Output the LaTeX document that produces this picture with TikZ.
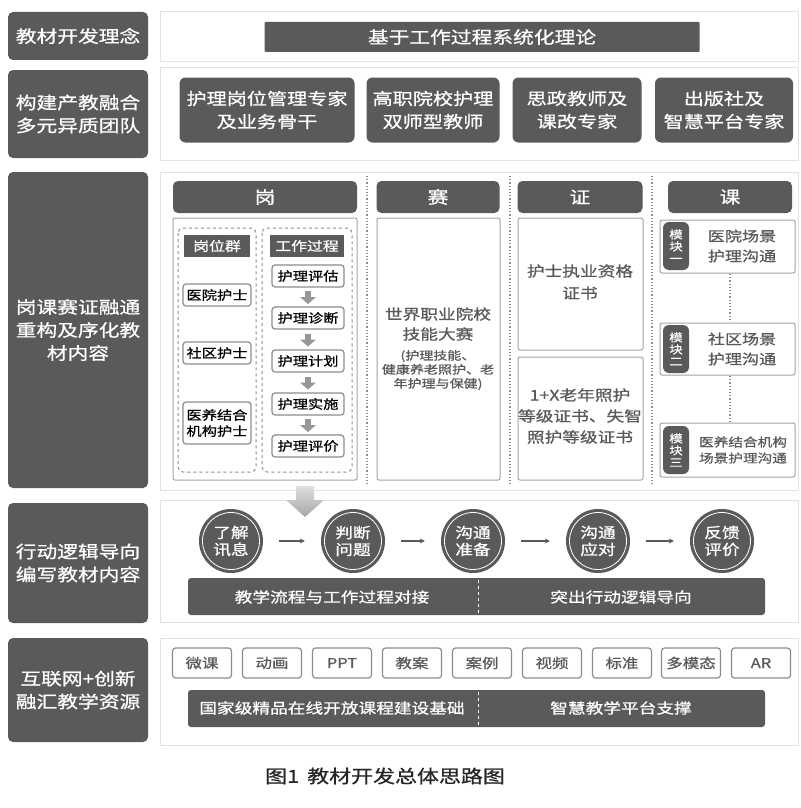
\documentclass[tikz,border=0pt]{standalone}
\usepackage{fontspec}
\setmainfont{Noto Sans CJK SC}[FakeStretch=1.22, FakeBold=0.8]
\usetikzlibrary{arrows.meta}
\definecolor{dk}{HTML}{5A5A5A}
\definecolor{pb}{HTML}{E2E2E2}
\definecolor{gr}{HTML}{8C8C8C}
\tikzset{
  lab/.style={fill=dk, rounded corners=5, text=white, align=center, inner sep=0, font=\fontsize{17}{23}\selectfont},
  panel/.style={draw=pb, fill=white, line width=1},
  dbox/.style={fill=dk, rounded corners=4, text=white, align=center, inner sep=0},
  wbox/.style={draw=gr, line width=1.2, fill=white, rounded corners=3, align=center, inner sep=0},
  cbox/.style={draw=gr!80, line width=1, fill=white, rounded corners=2},
  dashbox/.style={draw=gr, dashed, line width=1, rounded corners=5},
  sep/.style={draw=gr, dotted, line width=1.2},
  circ/.style={circle, fill=dk, minimum size=64, inner sep=0, text=white, align=center, font=\fontsize{14.5}{17}\selectfont},
  flow/.style={-{Stealth[length=5,width=5]}, line width=1.3, draw=dk},
  sarr/.style={fill=gr!90},
  ctext/.style={align=center, text=dk, inner sep=0},
}
\begin{document}
\begin{tikzpicture}[x=1pt,y=-1pt]
\useasboundingbox (0,0) rectangle (800,808);

% ---------- panels
\draw[panel] (160,12) rectangle (798,62);
\draw[panel] (160,68) rectangle (798,160);
\draw[panel] (160,172) rectangle (798,490);
\draw[panel] (160,500) rectangle (798,622);
\draw[panel] (160,638) rectangle (798,745);

% ---------- left labels
\node[lab, minimum width=140, minimum height=48] (L1) at (78,36) {教材开发理念};
\node[lab, minimum width=140, minimum height=88] (L2) at (78,114) {构建产教融合\\多元异质团队};
\node[lab, minimum width=140, minimum height=316] (L3) at (78,330) {岗课赛证融通\\重构及序化教\\材内容};
\node[lab, minimum width=140, minimum height=120] (L4) at (78,563) {行动逻辑导向\\编写教材内容};
\node[lab, minimum width=140, minimum height=104] (L5) at (78,690) {互联网+创新\\融汇教学资源};

% ---------- row 1
\node[dbox, rounded corners=1, minimum width=435, minimum height=30, font=\fontsize{17}{20}\selectfont] (theory) at (482,37) {基于工作过程系统化理论};

% ---------- row 2
\begin{scope}[every node/.style={dbox, rounded corners=6, minimum height=65, font=\fontsize{16.5}{23}\selectfont}]
\node[minimum width=175] (t1) at (267,110) {护理岗位管理专家\\及业务骨干};
\node[minimum width=133] (t2) at (433,110) {高职院校护理\\双师型教师};
\node[minimum width=129] (t3) at (577,110) {思政教师及\\课改专家};
\node[minimum width=138] (t4) at (724,110) {出版社及\\智慧平台专家};
\end{scope}

% ---------- row 3 headers
\begin{scope}[every node/.style={dbox, rounded corners=5, minimum height=32, font=\fontsize{17}{20}\selectfont}]
\node[minimum width=184] (hg) at (265,197) {岗};
\node[minimum width=123] (hs) at (438,197) {赛};
\node[minimum width=125] (hz) at (580,197) {证};
\node[minimum width=124] (hk) at (730,197) {课};
\end{scope}

% separators
\draw[sep] (367,176) -- (367,486);
\draw[sep] (510,176) -- (510,486);
\draw[sep] (652,176) -- (652,486);

% 岗
\draw[cbox] (173,218) rectangle (357,480);
\draw[dashbox] (178,228) rectangle (256,472);
\draw[dashbox] (262,228) rectangle (352,472);
\node[dbox, rounded corners=0, minimum width=66, minimum height=22, font=\fontsize{13}{14}\selectfont] (gwq) at (217,246) {岗位群};
\node[dbox, rounded corners=0, minimum width=74, minimum height=22, font=\fontsize{13}{14}\selectfont] (gzgc) at (307,246) {工作过程};
\begin{scope}[every node/.style={wbox, minimum width=68, font=\fontsize{12.5}{16}\selectfont}]
\node[minimum height=22] (p1) at (217,295) {医院护士};
\node[minimum height=22] (p2) at (217,353) {社区护士};
\node[minimum height=42] (p3) at (217,423) {医养结合\\机构护士};
\end{scope}
\begin{scope}[every node/.style={wbox, minimum width=72, minimum height=22, font=\fontsize{12.5}{15}\selectfont}]
\node (w1) at (308,276) {护理评估};
\node (w2) at (308,318) {护理诊断};
\node (w3) at (308,361) {护理计划};
\node (w4) at (308,404) {护理实施};
\node (w5) at (308,446) {护理评价};
\end{scope}
\foreach \a/\b in {w1/w2,w2/w3,w3/w4,w4/w5}{
  \path (\a.south) -- (\b.north) coordinate[pos=0.5] (m);
  \fill[sarr] ([shift={(-3,-6)}]m) rectangle ([shift={(3,0)}]m);
  \fill[sarr] ([shift={(-8,0)}]m) -- ([shift={(8,0)}]m) -- ([shift={(0,7)}]m) -- cycle;
}

% 赛
\draw[cbox] (377,218) rectangle (500,480);
\node[ctext, font=\fontsize{14.5}{20}\selectfont] (sai1) at (438,324) {世界职业院校\\技能大赛};
\node[ctext, font=\fontsize{11.5}{14}\selectfont] (sai2) at (438,370) {(护理技能、\\健康养老照护、老\\年护理与保健)};

% 证
\draw[cbox] (518,218) rectangle (643,350);
\draw[cbox] (518,357) rectangle (643,480);
\node[ctext, font=\fontsize{14.5}{22}\selectfont] (z1) at (580,282) {护士执业资格\\证书};
\node[ctext, font=\fontsize{14.5}{21}\selectfont] (z2) at (580,416) {1+X老年照护\\等级证书、失智\\照护等级证书};

% 课
\draw[cbox] (660,220) rectangle (795,273);
\draw[cbox] (660,323) rectangle (795,375);
\draw[cbox] (660,423) rectangle (795,477);
\node[dbox, rounded corners=6, minimum width=26, minimum height=48, font=\fontsize{11}{12}\selectfont] (m1) at (676,246) {模\\块\\一};
\node[dbox, rounded corners=6, minimum width=26, minimum height=48, font=\fontsize{11}{12}\selectfont] (m2) at (676,349) {模\\块\\二};
\node[dbox, rounded corners=6, minimum width=26, minimum height=48, font=\fontsize{11}{12}\selectfont] (m3) at (676,450) {模\\块\\三};
\node[ctext, font=\fontsize{14}{20}\selectfont] (k1) at (742,246) {医院场景\\护理沟通};
\node[ctext, font=\fontsize{14}{20}\selectfont] (k2) at (742,349) {社区场景\\护理沟通};
\node[ctext, font=\fontsize{12}{16}\selectfont] (k3) at (743,450) {医养结合机构\\场景护理沟通};
\coordinate (d1a) at (730,274); \coordinate (d1b) at (730,322);
\coordinate (d2a) at (730,376); \coordinate (d2b) at (730,422);
\draw[sep] (d1a) -- (d1b);
\draw[sep] (d2a) -- (d2b);

% big gray arrow
\shade[top color=gray!25, bottom color=gray!70]
  (296,486) -- (314,486) -- (314,500) -- (324,500) -- (305,517) -- (286,500) -- (296,500) -- cycle;

% ---------- row 4
\node[circ] (c1) at (231,541) {了解\\讯息};
\node[circ] (c2) at (353,541) {判断\\问题};
\node[circ] (c3) at (473,541) {沟通\\准备};
\node[circ] (c4) at (598,541) {沟通\\应对};
\node[circ] (c5) at (722,541) {反馈\\评价};
\foreach \c in {c1,c2,c3,c4,c5}{\draw[white, line width=0.8] (\c.center) circle (28.5);}
\foreach \a/\b in {c1/c2,c2/c3,c3/c4,c4/c5}{\draw[flow] ([xshift=16]\a.east) -- ([xshift=-16]\b.west);}

\fill[dk, rounded corners=3] (188,578) rectangle (765,615);
\draw[white, dashed, line width=0.6] (478,580) -- (478,613);
\node[text=white, font=\fontsize{14.5}{16}\selectfont] (b1) at (332,597) {教学流程与工作过程对接};
\node[text=white, font=\fontsize{14.5}{16}\selectfont] (b2) at (621,597) {突出行动逻辑导向};

% ---------- row 5
\begin{scope}[every node/.style={wbox, minimum width=59, minimum height=30, font=\fontsize{13.5}{15}\selectfont, text=dk}]
\node (r1) at (202,663) {微课};
\node (r2) at (272,663) {动画};
\node (r3) at (342,663) {PPT};
\node (r4) at (412,663) {教案};
\node (r5) at (482,663) {案例};
\node (r6) at (552,663) {视频};
\node (r7) at (622,663) {标准};
\node (r8) at (691,663) {多模态};
\node (r9) at (761,663) {AR};
\end{scope}

\fill[dk, rounded corners=3] (188,690) rectangle (765,727);
\draw[white, dashed, line width=0.6] (478,692) -- (478,725);
\node[text=white, font=\fontsize{14.5}{16}\selectfont] (e1) at (332,708) {国家级精品在线开放课程建设基础};
\node[text=white, font=\fontsize{14.5}{16}\selectfont] (e2) at (621,708) {智慧教学平台支撑};

% caption
\node[font=\fontsize{18}{20}\selectfont, text=black!85] (cap) at (385,776) {图1\, 教材开发总体思路图};
\end{tikzpicture}
\end{document}
